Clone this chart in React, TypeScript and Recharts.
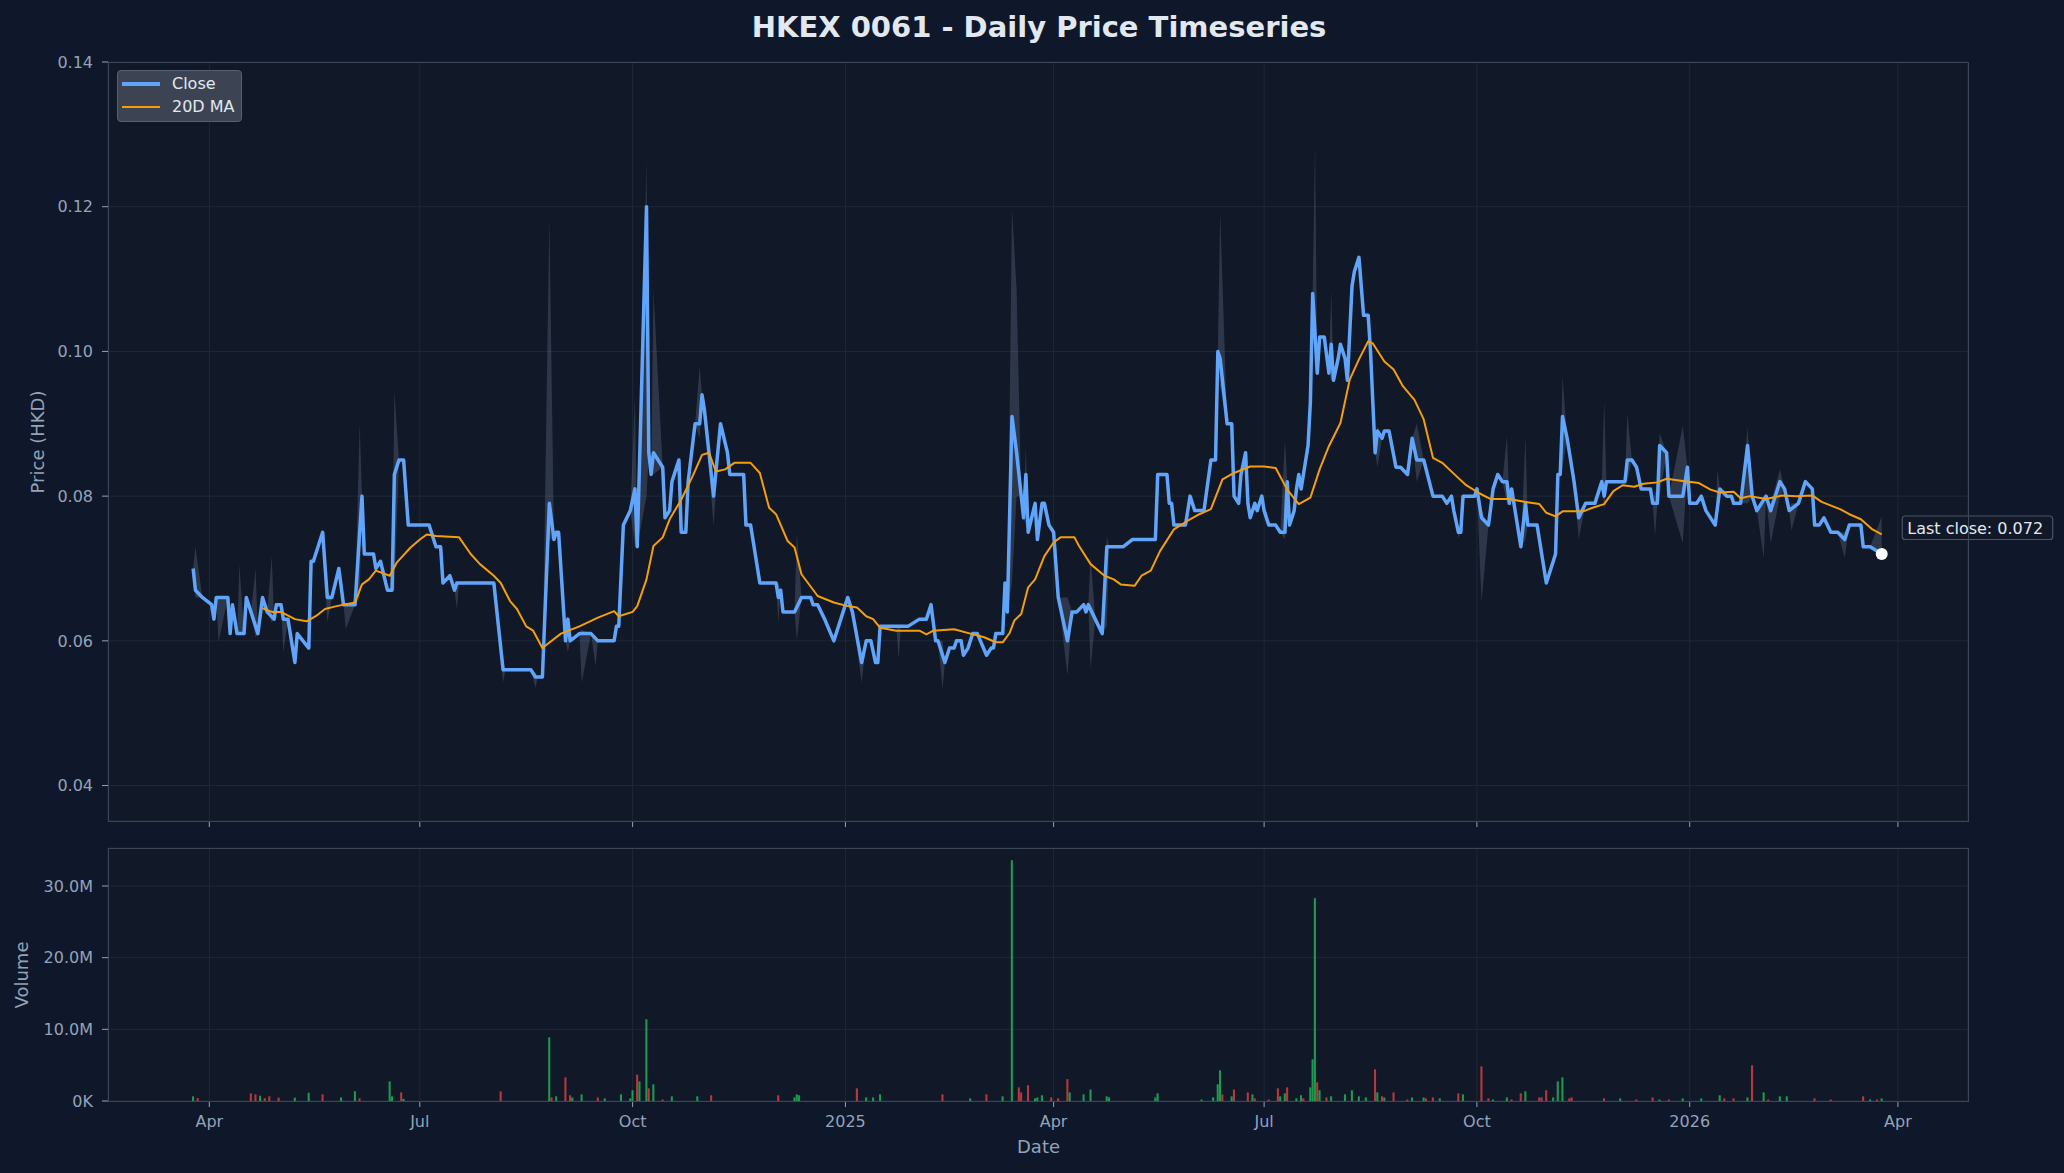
import React from "react";
import {
  ComposedChart,
  Line,
  Area,
  Bar,
  Cell,
  Scatter,
  XAxis,
  YAxis,
  CartesianGrid
} from "recharts";

const FONT = "'DejaVu Sans', 'Liberation Sans', sans-serif";

// daily close, read at the turning points of the line
const CLOSE_DATES = [
  "2024-03-25", "2024-03-26", "2024-03-29", "2024-04-02", "2024-04-03", "2024-04-04", "2024-04-09", "2024-04-10",
  "2024-04-11", "2024-04-13", "2024-04-16", "2024-04-17", "2024-04-19", "2024-04-22", "2024-04-24", "2024-04-26",
  "2024-04-29", "2024-04-30", "2024-05-02", "2024-05-03", "2024-05-05", "2024-05-08", "2024-05-09", "2024-05-14",
  "2024-05-15", "2024-05-16", "2024-05-20", "2024-05-22", "2024-05-24", "2024-05-27", "2024-05-29", "2024-06-03",
  "2024-06-06", "2024-06-07", "2024-06-11", "2024-06-12", "2024-06-14", "2024-06-17", "2024-06-19", "2024-06-20",
  "2024-06-22", "2024-06-24", "2024-06-26", "2024-07-05", "2024-07-08", "2024-07-10", "2024-07-11", "2024-07-14",
  "2024-07-16", "2024-07-17", "2024-07-18", "2024-08-02", "2024-08-06", "2024-08-07", "2024-08-18", "2024-08-20",
  "2024-08-21", "2024-08-23", "2024-08-26",
  "2024-08-28", "2024-08-29", "2024-08-30", "2024-09-02", "2024-09-03", "2024-09-04", "2024-09-08", "2024-09-13",
  "2024-09-16", "2024-09-23", "2024-09-24", "2024-09-25", "2024-09-27", "2024-09-30", "2024-10-02", "2024-10-03",
  "2024-10-07", "2024-10-08", "2024-10-09", "2024-10-10", "2024-10-14", "2024-10-15", "2024-10-17", "2024-10-18",
  "2024-10-21", "2024-10-22", "2024-10-24", "2024-10-25", "2024-10-28", "2024-10-30", "2024-10-31", "2024-11-01",
  "2024-11-05", "2024-11-08", "2024-11-11", "2024-11-12", "2024-11-18", "2024-11-19", "2024-11-21", "2024-11-25",
  "2024-12-02", "2024-12-03", "2024-12-04", "2024-12-05", "2024-12-10", "2024-12-13", "2024-12-17", "2024-12-18",
  "2024-12-20", "2024-12-23", "2024-12-27", "2024-12-30", "2025-01-02", "2025-01-04", "2025-01-08", "2025-01-10",
  "2025-01-12", "2025-01-14", "2025-01-15", "2025-01-16", "2025-01-23", "2025-01-25", "2025-01-28", "2025-02-02",
  "2025-02-05", "2025-02-07",
  "2025-02-09", "2025-02-10", "2025-02-13", "2025-02-15", "2025-02-17", "2025-02-18", "2025-02-20", "2025-02-21",
  "2025-02-23", "2025-02-25", "2025-02-27", "2025-03-03", "2025-03-05", "2025-03-06", "2025-03-07", "2025-03-10",
  "2025-03-11", "2025-03-12", "2025-03-14", "2025-03-16", "2025-03-18", "2025-03-19", "2025-03-20", "2025-03-21",
  "2025-03-24", "2025-03-25", "2025-03-27", "2025-03-28", "2025-03-30", "2025-04-01", "2025-04-03", "2025-04-07",
  "2025-04-09", "2025-04-11", "2025-04-14", "2025-04-15", "2025-04-16", "2025-04-19", "2025-04-22", "2025-04-24",
  "2025-04-25", "2025-05-01", "2025-05-05", "2025-05-15", "2025-05-16", "2025-05-20", "2025-05-21", "2025-05-22", "2025-05-23",
  "2025-05-28", "2025-05-30", "2025-06-01", "2025-06-05", "2025-06-08", "2025-06-10", "2025-06-11", "2025-06-12",
  "2025-06-15", "2025-06-17", "2025-06-18", "2025-06-20", "2025-06-21", "2025-06-23", "2025-06-24", "2025-06-25",
  "2025-06-27", "2025-06-28", "2025-06-30", "2025-07-01", "2025-07-03", "2025-07-06", "2025-07-08", "2025-07-10",
  "2025-07-11", "2025-07-12", "2025-07-14", "2025-07-15", "2025-07-16", "2025-07-17", "2025-07-18", "2025-07-20",
  "2025-07-21", "2025-07-22", "2025-07-24", "2025-07-25", "2025-07-27", "2025-07-29", "2025-07-30", "2025-07-31",
  "2025-08-02", "2025-08-03", "2025-08-05", "2025-08-06", "2025-08-08", "2025-08-09", "2025-08-11", "2025-08-13",
  "2025-08-15", "2025-08-16", "2025-08-18", "2025-08-19", "2025-08-21", "2025-08-22", "2025-08-24", "2025-08-27",
  "2025-08-29", "2025-09-01", "2025-09-03", "2025-09-05", "2025-09-08", "2025-09-12", "2025-09-16", "2025-09-18",
  "2025-09-20", "2025-09-21", "2025-09-23", "2025-09-24", "2025-09-25", "2025-09-30", "2025-10-01", "2025-10-03",
  "2025-10-06", "2025-10-08", "2025-10-10", "2025-10-12", "2025-10-14", "2025-10-15", "2025-10-16", "2025-10-17",
  "2025-10-20", "2025-10-22", "2025-10-23", "2025-10-27", "2025-10-31", "2025-11-04", "2025-11-05", "2025-11-06",
  "2025-11-07", "2025-11-09", "2025-11-12", "2025-11-14", "2025-11-17", "2025-11-21", "2025-11-24", "2025-11-25",
  "2025-11-26", "2025-12-04", "2025-12-05", "2025-12-07", "2025-12-09", "2025-12-11", "2025-12-15", "2025-12-16",
  "2025-12-18", "2025-12-19", "2025-12-22", "2025-12-23", "2025-12-29", "2025-12-31", "2026-01-01", "2026-01-04",
  "2026-01-06", "2026-01-08", "2026-01-10", "2026-01-12", "2026-01-14", "2026-01-17", "2026-01-19", "2026-01-20",
  "2026-01-23", "2026-01-26", "2026-01-28", "2026-01-30", "2026-02-03", "2026-02-05", "2026-02-09", "2026-02-11",
  "2026-02-13", "2026-02-17", "2026-02-20", "2026-02-23", "2026-02-24", "2026-02-26", "2026-02-28", "2026-03-03",
  "2026-03-06", "2026-03-09", "2026-03-11", "2026-03-16", "2026-03-17", "2026-03-20", "2026-03-25"
];
const CLOSE = [
  0.070, 0.067, 0.066, 0.065, 0.063, 0.066, 0.066, 0.061,
  0.065, 0.061, 0.061, 0.066, 0.064, 0.061, 0.066, 0.064,
  0.063, 0.065, 0.065, 0.063, 0.063, 0.057, 0.061, 0.059,
  0.071, 0.071, 0.075, 0.066, 0.066, 0.070, 0.065, 0.065,
  0.080, 0.072, 0.072, 0.070, 0.071, 0.067, 0.067, 0.083,
  0.085, 0.085, 0.076, 0.076, 0.073, 0.073, 0.068, 0.069,
  0.067, 0.068, 0.068, 0.068, 0.056, 0.056, 0.056, 0.055,
  0.055, 0.055, 0.079,
  0.074, 0.075, 0.075, 0.060, 0.063, 0.060, 0.061, 0.061,
  0.060, 0.060, 0.062, 0.062, 0.076, 0.078, 0.081, 0.073,
  0.120, 0.086, 0.083, 0.086, 0.084, 0.077, 0.078, 0.082,
  0.085, 0.075, 0.075, 0.082, 0.090, 0.090, 0.094, 0.092,
  0.080, 0.090, 0.086, 0.083, 0.083, 0.076, 0.076, 0.068,
  0.068, 0.066, 0.067, 0.064, 0.064, 0.066, 0.066, 0.065,
  0.065, 0.063, 0.060, 0.063, 0.066, 0.064, 0.057, 0.060,
  0.060, 0.057, 0.057, 0.062, 0.062, 0.062, 0.062, 0.063,
  0.063, 0.065,
  0.060, 0.060, 0.057, 0.059, 0.059, 0.060, 0.060, 0.058,
  0.059, 0.061, 0.061, 0.058, 0.059, 0.059, 0.061, 0.061,
  0.068, 0.064, 0.091, 0.086, 0.080, 0.077, 0.083, 0.075,
  0.079, 0.074, 0.079, 0.079, 0.076, 0.075, 0.066, 0.060,
  0.064, 0.064, 0.065, 0.064, 0.065, 0.063, 0.061, 0.073,
  0.073, 0.073, 0.074, 0.074, 0.083, 0.083, 0.079, 0.079, 0.076,
  0.076, 0.080, 0.078, 0.078, 0.085, 0.085, 0.100, 0.099,
  0.090, 0.090, 0.080, 0.079, 0.083, 0.086, 0.079, 0.077,
  0.079, 0.078, 0.080, 0.078, 0.076, 0.076, 0.075, 0.075,
  0.082, 0.076, 0.078, 0.081, 0.083, 0.081, 0.083, 0.087,
  0.093, 0.108, 0.097, 0.102, 0.102, 0.097, 0.101, 0.096,
  0.099, 0.101, 0.099, 0.096, 0.109, 0.111, 0.113, 0.105,
  0.105, 0.100, 0.086, 0.089, 0.088, 0.089, 0.089, 0.084,
  0.084, 0.083, 0.088, 0.085, 0.085, 0.080, 0.080, 0.079,
  0.080, 0.078, 0.075, 0.075, 0.080, 0.080, 0.081, 0.077,
  0.076, 0.081, 0.083, 0.082, 0.082, 0.079, 0.081, 0.079,
  0.073, 0.079, 0.076, 0.076, 0.068, 0.072, 0.083, 0.083,
  0.091, 0.088, 0.082, 0.077, 0.079, 0.079, 0.082, 0.080,
  0.082, 0.082, 0.085, 0.085, 0.084, 0.081, 0.081, 0.079,
  0.079, 0.087, 0.086, 0.080, 0.080, 0.084, 0.079, 0.079,
  0.080, 0.078, 0.077, 0.076, 0.081, 0.080, 0.080, 0.079,
  0.079, 0.087, 0.080, 0.078, 0.080, 0.078, 0.082, 0.081,
  0.078, 0.079, 0.082, 0.081, 0.076, 0.076, 0.077, 0.075,
  0.075, 0.074, 0.076, 0.076, 0.073, 0.073, 0.072
];

// 20-day moving average as drawn
const MA_DATES = [
  "2024-04-24", "2024-04-28", "2024-05-02", "2024-05-08", "2024-05-13", "2024-05-17", "2024-05-21", "2024-05-26",
  "2024-06-03", "2024-06-06", "2024-06-09", "2024-06-12", "2024-06-18", "2024-06-21", "2024-06-27", "2024-07-01",
  "2024-07-04", "2024-07-08", "2024-07-18", "2024-07-23", "2024-07-27", "2024-08-02", "2024-08-05", "2024-08-09",
  "2024-08-12", "2024-08-16", "2024-08-19", "2024-08-23", "2024-08-31", "2024-09-08", "2024-09-16", "2024-09-23",
  "2024-09-25", "2024-10-01", "2024-10-03", "2024-10-07", "2024-10-10", "2024-10-14", "2024-10-17", "2024-10-22",
  "2024-10-27", "2024-10-31", "2024-11-03", "2024-11-06", "2024-11-10", "2024-11-14", "2024-11-21", "2024-11-25",
  "2024-11-29", "2024-12-02", "2024-12-07", "2024-12-10", "2024-12-13", "2024-12-20", "2024-12-27", "2025-01-02",
  "2025-01-06", "2025-01-10", "2025-01-13", "2025-01-16", "2025-01-23", "2025-02-02", "2025-02-05", "2025-02-08",
  "2025-02-17", "2025-02-24", "2025-03-02", "2025-03-07", "2025-03-10", "2025-03-13", "2025-03-15", "2025-03-18",
  "2025-03-21", "2025-03-24", "2025-03-28", "2025-04-01", "2025-04-04", "2025-04-10", "2025-04-12", "2025-04-17",
  "2025-04-23", "2025-04-27", "2025-04-30", "2025-05-06", "2025-05-09", "2025-05-13", "2025-05-17", "2025-05-23",
  "2025-05-29", "2025-06-03", "2025-06-08", "2025-06-13", "2025-06-18", "2025-06-25", "2025-07-01", "2025-07-06",
  "2025-07-11", "2025-07-16", "2025-07-21", "2025-07-25", "2025-07-29", "2025-08-03", "2025-08-07", "2025-08-11",
  "2025-08-15", "2025-08-17", "2025-08-22", "2025-08-26", "2025-08-30", "2025-09-04", "2025-09-08", "2025-09-12",
  "2025-09-16", "2025-09-22", "2025-09-26", "2025-10-02", "2025-10-07", "2025-10-15", "2025-10-22", "2025-10-28",
  "2025-10-31", "2025-11-04", "2025-11-07", "2025-11-16", "2025-11-20", "2025-11-25", "2025-11-29", "2025-12-03",
  "2025-12-08", "2025-12-12", "2025-12-18", "2025-12-22", "2025-12-29", "2026-01-05", "2026-01-10", "2026-01-14",
  "2026-01-20", "2026-01-23", "2026-01-27", "2026-02-03", "2026-02-10", "2026-02-16", "2026-02-23", "2026-02-27",
  "2026-03-07", "2026-03-11", "2026-03-16", "2026-03-21", "2026-03-25"
];
const MA20 = [
  0.0645, 0.0640, 0.0640, 0.0630, 0.0627, 0.0634, 0.0644, 0.0648,
  0.0653, 0.0678, 0.0685, 0.0697, 0.0690, 0.0708, 0.0729, 0.0740,
  0.0747, 0.0745, 0.0743, 0.0720, 0.0706, 0.0690, 0.0680, 0.0655,
  0.0644, 0.0620, 0.0614, 0.0590, 0.0610, 0.0620, 0.0632, 0.0641,
  0.0634, 0.0640, 0.0648, 0.0685, 0.0731, 0.0743, 0.0768, 0.0795,
  0.0828, 0.0857, 0.0860, 0.0834, 0.0837, 0.0846, 0.0846, 0.0832,
  0.0784, 0.0775, 0.0738, 0.0729, 0.0692, 0.0662, 0.0653, 0.0648,
  0.0646, 0.0634, 0.0630, 0.0618, 0.0614, 0.0614, 0.0609, 0.0614,
  0.0616, 0.0610, 0.0605, 0.0598, 0.0598, 0.0611, 0.0628, 0.0637,
  0.0674, 0.0685, 0.0717, 0.0736, 0.0743, 0.0743, 0.0731, 0.0706,
  0.0690, 0.0685, 0.0678, 0.0676, 0.0690, 0.0697, 0.0724, 0.0754,
  0.0766, 0.0775, 0.0782, 0.0823, 0.0832, 0.0841, 0.0841, 0.0839,
  0.0809, 0.0789, 0.0798, 0.0837, 0.0869, 0.0901, 0.0961, 0.0989,
  0.1014, 0.1011, 0.0986, 0.0975, 0.0952, 0.0933, 0.0906, 0.0853,
  0.0846, 0.0828, 0.0816, 0.0804, 0.0796, 0.0796, 0.0792, 0.0789,
  0.0777, 0.0772, 0.0779, 0.0779, 0.0784, 0.0789, 0.0807, 0.0815,
  0.0813, 0.0817, 0.0819, 0.0824, 0.0821, 0.0818, 0.0809, 0.0805,
  0.0806, 0.0797, 0.0800, 0.0796, 0.0801, 0.0800, 0.0801, 0.0792,
  0.0782, 0.0775, 0.0768, 0.0754, 0.0747
];

// intraday high/low extremes that stick out of the close line
const SPIKE_DATES = [
  "2024-03-26", "2024-04-05", "2024-04-14", "2024-04-21", "2024-04-28", "2024-05-03", "2024-05-22", "2024-05-30",
  "2024-06-05", "2024-06-20", "2024-07-17", "2024-08-06", "2024-08-20", "2024-08-26", "2024-09-03", "2024-09-09",
  "2024-09-15", "2024-10-02", "2024-10-07", "2024-10-10", "2024-10-30", "2024-11-05", "2024-12-03", "2024-12-11",
  "2025-01-08", "2025-01-24", "2025-02-12", "2025-03-14", "2025-03-16", "2025-03-20", "2025-04-07", "2025-04-17",
  "2025-04-24", "2025-06-12", "2025-07-10", "2025-07-23", "2025-07-30", "2025-08-19", "2025-09-05", "2025-09-23",
  "2025-10-03", "2025-10-14", "2025-10-22", "2025-11-07", "2025-11-14", "2025-11-25", "2025-12-05", "2025-12-17",
  "2025-12-19", "2025-12-29", "2026-01-13", "2026-01-26", "2026-02-02", "2026-02-05", "2026-02-09", "2026-02-14",
  "2026-03-09", "2026-03-25"
];
const SPIKE_LOW = [
  0.0660, 0.0598, 0.0610, 0.0605, 0.0625, 0.0584, 0.0625, 0.0616,
  0.0660, 0.0670, 0.0644, 0.0542, 0.0535, 0.0740, 0.0584, 0.0542,
  0.0565, 0.0730, 0.0800, 0.0830, 0.0880, 0.0759, 0.0625, 0.0600,
  0.0542, 0.0575, 0.0533, 0.0680, 0.0800, 0.0760, 0.0552, 0.0561,
  0.0620, 0.0950, 0.0740, 0.0970, 0.0960, 0.0840, 0.0820, 0.0742,
  0.0653, 0.0790, 0.0740, 0.0840, 0.0740, 0.0780, 0.0820, 0.0745,
  0.0800, 0.0735, 0.0770, 0.0790, 0.0715, 0.0735, 0.0800, 0.0752,
  0.0715, 0.0720
];
const SPIKE_HIGH = [
  0.0730, 0.0660, 0.0706, 0.0700, 0.0717, 0.0630, 0.0670, 0.0650,
  0.0901, 0.0945, 0.0680, 0.0570, 0.0555, 0.1186, 0.0630, 0.0615,
  0.0605, 0.0938, 0.1264, 0.1085, 0.0980, 0.0800, 0.0680, 0.0750,
  0.0580, 0.0620, 0.0600, 0.1198, 0.1085, 0.0870, 0.0660, 0.0717,
  0.0745, 0.1193, 0.0878, 0.1290, 0.1085, 0.0897, 0.0900, 0.0755,
  0.0780, 0.0883, 0.0883, 0.0966, 0.0780, 0.0933, 0.0915, 0.0810,
  0.0887, 0.0897, 0.0837, 0.0895, 0.0800, 0.0790, 0.0837, 0.0790,
  0.0750, 0.0772
];

// daily volume (millions of shares), 1 = up day, 0 = down day
const VOL_DATES = [
  "2024-03-25", "2024-03-27", "2024-04-19", "2024-04-21", "2024-04-23", "2024-04-25", "2024-04-27", "2024-05-01",
  "2024-05-08", "2024-05-14", "2024-05-20", "2024-05-28", "2024-06-03", "2024-06-05", "2024-06-18", "2024-06-19",
  "2024-06-23", "2024-06-24", "2024-08-05", "2024-08-26", "2024-08-27", "2024-08-29", "2024-09-02", "2024-09-04",
  "2024-09-05", "2024-09-09", "2024-09-16", "2024-09-19", "2024-09-26", "2024-09-30", "2024-10-01", "2024-10-03",
  "2024-10-04", "2024-10-07", "2024-10-08", "2024-10-10", "2024-10-14", "2024-10-18", "2024-10-29", "2024-11-04",
  "2024-12-03", "2024-12-10", "2024-12-11", "2024-12-12", "2025-01-06", "2025-01-10", "2025-01-13", "2025-01-16",
  "2025-02-12", "2025-02-24", "2025-03-03", "2025-03-10", "2025-03-14", "2025-03-17", "2025-03-18", "2025-03-21",
  "2025-03-24", "2025-03-25", "2025-03-27", "2025-03-31", "2025-04-03", "2025-04-07", "2025-04-08", "2025-04-14",
  "2025-04-17", "2025-04-24", "2025-04-25", "2025-05-15", "2025-05-16", "2025-06-04", "2025-06-09", "2025-06-11",
  "2025-06-12", "2025-06-13", "2025-06-17", "2025-06-18", "2025-06-24", "2025-06-26", "2025-06-27", "2025-07-03",
  "2025-07-07", "2025-07-08", "2025-07-10", "2025-07-11", "2025-07-15", "2025-07-17", "2025-07-18", "2025-07-21",
  "2025-07-22", "2025-07-23", "2025-07-24", "2025-07-25", "2025-07-28", "2025-07-30", "2025-08-05", "2025-08-08",
  "2025-08-11", "2025-08-14", "2025-08-18", "2025-08-19", "2025-08-21", "2025-08-22", "2025-08-26", "2025-09-01",
  "2025-09-03", "2025-09-08", "2025-09-09", "2025-09-12", "2025-09-15", "2025-09-23", "2025-09-25", "2025-10-03",
  "2025-10-06", "2025-10-08", "2025-10-14", "2025-10-16", "2025-10-20", "2025-10-22", "2025-10-28", "2025-10-29",
  "2025-10-31", "2025-11-03", "2025-11-05", "2025-11-07", "2025-11-10", "2025-11-11", "2025-11-25", "2025-12-02",
  "2025-12-09", "2025-12-16", "2025-12-19", "2025-12-23", "2025-12-29", "2026-01-06", "2026-01-14", "2026-01-16",
  "2026-01-20", "2026-01-26", "2026-01-28", "2026-02-02", "2026-02-04", "2026-02-09", "2026-02-12", "2026-02-24",
  "2026-03-03", "2026-03-17", "2026-03-20", "2026-03-23", "2026-03-25"
];
const VOL_M = [
  0.65, 0.40, 1.07, 0.93, 0.74, 0.40, 0.65, 0.47,
  0.47, 1.16, 0.93, 0.50, 1.35, 0.37, 2.74, 0.65,
  1.20, 0.30, 1.35, 8.88, 0.50, 0.65, 3.30, 0.80,
  0.50, 0.93, 0.50, 0.37, 0.93, 0.37, 1.50, 3.67,
  2.74, 11.4, 1.77, 2.33, 0.20, 0.65, 0.65, 0.80,
  0.80, 0.50, 0.93, 0.80, 1.77, 0.50, 0.50, 0.93,
  0.93, 0.37, 0.93, 0.65, 33.6, 1.90, 1.20, 2.20,
  0.37, 0.50, 0.80, 0.50, 0.37, 3.05, 1.20, 0.93,
  1.60, 0.65, 0.50, 0.50, 1.07, 0.20, 0.50, 2.33,
  4.28, 0.93, 0.65, 1.60, 1.20, 0.93, 0.37, 0.20,
  1.77, 0.65, 1.07, 1.90, 0.37, 0.80, 0.37, 1.90,
  5.80, 28.3, 2.60, 1.50, 0.50, 0.65, 0.93, 1.50,
  0.65, 0.50, 4.42, 1.20, 0.65, 0.50, 1.20, 0.20,
  0.50, 0.50, 0.37, 0.50, 0.37, 1.07, 0.93, 4.84,
  0.37, 0.20, 0.50, 0.20, 1.07, 1.35, 0.50, 0.50,
  1.50, 0.50, 2.74, 3.30, 0.37, 0.50, 0.37, 0.37,
  0.20, 0.50, 0.20, 0.20, 0.37, 0.37, 0.80, 0.37,
  0.37, 0.50, 4.98, 1.20, 0.20, 0.65, 0.65, 0.37,
  0.20, 0.65, 0.20, 0.20, 0.37
];
const VOL_UP = [
  1, 0, 0, 0, 1, 0, 0, 0,
  1, 1, 0, 1, 1, 0, 1, 1,
  0, 1, 0, 1, 0, 1, 0, 0,
  1, 1, 0, 1, 1, 1, 1, 0,
  1, 1, 0, 1, 0, 1, 1, 0,
  0, 1, 1, 1, 0, 1, 1, 1,
  0, 1, 0, 1, 1, 0, 0, 0,
  1, 1, 1, 0, 0, 0, 1, 1,
  1, 1, 1, 1, 1, 1, 1, 1,
  1, 0, 1, 0, 0, 1, 0, 0,
  0, 1, 1, 0, 1, 1, 0, 1,
  1, 1, 0, 1, 0, 1, 1, 1,
  1, 1, 0, 1, 0, 1, 0, 0,
  1, 1, 0, 0, 1, 0, 1, 0,
  0, 1, 1, 0, 0, 1, 0, 0,
  0, 1, 1, 1, 0, 0, 0, 1,
  0, 0, 1, 0, 1, 1, 1, 0,
  0, 1, 0, 1, 0, 1, 1, 0,
  0, 0, 1, 0, 1
];

const TICK_DATES = [
  "2024-04-01", "2024-07-01", "2024-10-01", "2025-01-01", "2025-04-01",
  "2025-07-01", "2025-10-01", "2026-01-01", "2026-04-01"
];
const TICK_LABELS = ["Apr", "Jul", "Oct", "2025", "Apr", "Jul", "Oct", "2026", "Apr"];
const PRICE_TICKS = [0.04, 0.06, 0.08, 0.1, 0.12, 0.14];
const VOL_TICKS = [0, 10e6, 20e6, 30e6];

const BASE = Date.UTC(2024, 3, 1);
const toDay = (s: string) => Math.round((Date.parse(s) - BASE) / 86400000);

const X_DOMAIN = [-43.8, 760.3];
const PRICE_DOMAIN = [0.0351, 0.14];
const VOL_DOMAIN = [0, 35.3e6];

const BG = "#0f172a";
const PANEL = "#111827";
const GRID = "#1f2937";
const SPINE = "#3b4658";
const MUTED = "#94a3b8";
const BLUE = "#60a5fa";
const AMBER = "#f59e0b";

const closeData = CLOSE_DATES.map((d, i) => ({ t: toDay(d), v: CLOSE[i] })).sort((a, b) => a.t - b.t);
const maData = MA_DATES.map((d, i) => ({ t: toDay(d), v: MA20[i] }));

const bandData = (() => {
  const rows = new Map<number, [number, number]>();
  CLOSE_DATES.forEach((d, i) => rows.set(toDay(d), [CLOSE[i], CLOSE[i]]));
  SPIKE_DATES.forEach((d, i) => rows.set(toDay(d), [SPIKE_LOW[i], SPIKE_HIGH[i]]));
  return [...rows.entries()]
    .sort((a, b) => a[0] - b[0])
    .map(([t, r]) => ({ t, r }));
})();

const volData = VOL_DATES.map((d, i) => ({ t: toDay(d), vol: VOL_M[i] * 1e6, up: VOL_UP[i] }));

const tickDays = TICK_DATES.map(toDay);
const lastPoint = [{ t: toDay(CLOSE_DATES[CLOSE_DATES.length - 1]), v: CLOSE[CLOSE.length - 1] }];

const tickStyle = { fill: MUTED, fontSize: 16, fontFamily: FONT };

const LastClose = (p: any) => {
  const { cx, cy } = p;
  return (
    <g>
      <circle cx={cx} cy={cy} r={6} fill="#ffffff" />
      <rect x={cx + 20.5} y={cy - 38} width={150.5} height={23.5} rx={3}
        fill={PANEL} stroke="#475569" strokeWidth={1.2} />
      <text x={cx + 25.5} y={cy - 20.5} fill="#e2e8f0" fontSize={16} fontFamily={FONT}>
        {`Last close: ${p.payload.v.toFixed(3)}`}
      </text>
    </g>
  );
};

export default function App() {
  return (
    <div style={{ position: "absolute", left: 0, top: 0, width: 2064, height: 1173, background: BG, overflow: "hidden", fontFamily: FONT }}>
      {/* panel backgrounds */}
      <div style={{ position: "absolute", left: 108, top: 62, width: 1860, height: 759, background: PANEL }} />
      <div style={{ position: "absolute", left: 108, top: 848, width: 1860, height: 253, background: PANEL }} />

      <div style={{ position: "absolute", left: 0, top: 13, width: 2078, textAlign: "center", fontSize: 29, fontWeight: "bold", color: "#e2e8f0", lineHeight: 1 }}>
        HKEX 0061 - Daily Price Timeseries
      </div>

      <div style={{ position: "absolute", left: 0, top: 0 }}>
        <ComposedChart width={2064} height={831} margin={{ top: 62, right: 96, bottom: 0, left: 0 }} style={{ overflow: "visible" }}>
          <CartesianGrid stroke={GRID} strokeWidth={1} />
          <XAxis
            dataKey="t"
            type="number"
            domain={X_DOMAIN}
            ticks={tickDays}
            interval={0}
            tickFormatter={() => ""}
            height={10}
            tickSize={6}
            axisLine={false}
            tickLine={{ stroke: MUTED }}
            tick={tickStyle}
          />
          <YAxis
            type="number"
            domain={PRICE_DOMAIN}
            ticks={PRICE_TICKS}
            interval={0}
            tickFormatter={(v: number) => v.toFixed(2)}
            width={108}
            tickSize={6}
            tickMargin={9}
            axisLine={false}
            tickLine={{ stroke: MUTED }}
            tick={tickStyle}
          />
          <Area
            data={bandData}
            dataKey="r"
            type="linear"
            stroke="none"
            fill="#64748b"
            fillOpacity={0.35}
            isAnimationActive={false}
          />
          <Line
            data={closeData}
            dataKey="v"
            type="linear"
            stroke={BLUE}
            strokeWidth={3.5}
            strokeLinejoin="round"
            dot={false}
            activeDot={false}
            isAnimationActive={false}
          />
          <Line
            data={maData}
            dataKey="v"
            type="linear"
            stroke={AMBER}
            strokeWidth={2}
            strokeLinejoin="round"
            dot={false}
            activeDot={false}
            isAnimationActive={false}
          />
          <Scatter data={lastPoint} dataKey="v" shape={LastClose} isAnimationActive={false} />
        </ComposedChart>
      </div>

      <div style={{ position: "absolute", left: 0, top: 800 }}>
        <ComposedChart width={2064} height={373} data={volData} margin={{ top: 48, right: 96, bottom: 0, left: 0 }}>
          <CartesianGrid stroke={GRID} strokeWidth={1} />
          <XAxis
            dataKey="t"
            type="number"
            domain={X_DOMAIN}
            allowDataOverflow
            ticks={tickDays}
            interval={0}
            tickFormatter={(v: number) => TICK_LABELS[tickDays.indexOf(v)] ?? ""}
            height={72}
            tickSize={6}
            tickMargin={9}
            axisLine={false}
            tickLine={{ stroke: MUTED }}
            tick={tickStyle}
          />
          <YAxis
            type="number"
            domain={VOL_DOMAIN}
            allowDataOverflow
            ticks={VOL_TICKS}
            interval={0}
            tickFormatter={(v: number) => (v === 0 ? "0K" : `${(v / 1e6).toFixed(1)}M`)}
            width={108}
            tickSize={6}
            tickMargin={9}
            axisLine={false}
            tickLine={{ stroke: MUTED }}
            tick={tickStyle}
          />
          <Bar dataKey="vol" barSize={4} isAnimationActive={false}>
            {volData.map((row, i) => (
              <Cell key={i} fill={row.up ? "#22c55e" : "#ef4444"} fillOpacity={0.75} />
            ))}
          </Bar>
        </ComposedChart>
      </div>

      {/* spines */}
      <div style={{ position: "absolute", left: 107.5, top: 61.5, width: 1861, height: 760, border: `1.5px solid ${SPINE}`, boxSizing: "border-box", pointerEvents: "none" }} />
      <div style={{ position: "absolute", left: 107.5, top: 847.5, width: 1861, height: 254, border: `1.5px solid ${SPINE}`, boxSizing: "border-box", pointerEvents: "none" }} />

      {/* legend */}
      <div style={{ position: "absolute", left: 117, top: 70, width: 125, height: 52, boxSizing: "border-box", background: "#3c4453", border: "1px solid #566072", borderRadius: 4 }}>
        <div style={{ position: "absolute", left: 4, top: 11, width: 38, height: 4, background: BLUE }} />
        <div style={{ position: "absolute", left: 54, top: 5, fontSize: 16, lineHeight: "16px", color: "#e2e8f0" }}>Close</div>
        <div style={{ position: "absolute", left: 4, top: 35, width: 38, height: 2, background: AMBER }} />
        <div style={{ position: "absolute", left: 54, top: 28, fontSize: 16, lineHeight: "16px", color: "#e2e8f0" }}>20D MA</div>
      </div>

      {/* axis titles */}
      <div style={{ position: "absolute", left: 38, top: 442, transform: "translate(-50%, -50%) rotate(-90deg)", whiteSpace: "nowrap", fontSize: 18, lineHeight: 1, color: MUTED }}>
        Price (HKD)
      </div>
      <div style={{ position: "absolute", left: 22, top: 975, transform: "translate(-50%, -50%) rotate(-90deg)", whiteSpace: "nowrap", fontSize: 18, lineHeight: 1, color: MUTED }}>
        Volume
      </div>
      <div style={{ position: "absolute", left: 0, top: 1138, width: 2077, textAlign: "center", fontSize: 18, lineHeight: 1, color: MUTED }}>
        Date
      </div>
    </div>
  );
}
